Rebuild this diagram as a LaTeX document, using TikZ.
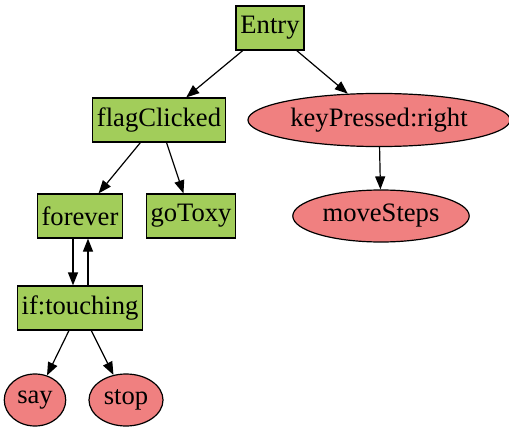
\documentclass[tikz,border=0pt]{standalone}
\usepackage{fontspec}
\setmainfont{Liberation Serif}
\usetikzlibrary{shapes.geometric,arrows.meta}
\definecolor{leaf}{HTML}{A2CD5A}
\definecolor{coral}{HTML}{F08080}
\tikzset{
    block/.style={draw, fill=leaf, line width=0.6pt, inner xsep=2.2pt, minimum height=22pt, font=\fontsize{13.3pt}{16pt}\selectfont},
    oval/.style={ellipse, draw, fill=coral, line width=0.6pt, inner xsep=2pt, minimum height=26pt, font=\fontsize{13.3pt}{16pt}\selectfont},
    edge/.style={line width=0.6pt, -{Triangle[length=6.5pt,width=5pt]}}
}
\begin{document}
\begin{tikzpicture}[x=0.5pt,y=-0.5pt]
    \useasboundingbox (0,0) rectangle (509,428);
    \node[block] (entry) at (270,28) {Entry};
    \node[block] (flag) at (159,120) {flagClicked};
    \node[oval] (key) at (379,120) {keyPressed:right};
    \node[block] (forever) at (80,216) {forever};
    \node[block] (goto) at (191,216) {goToxy};
    \node[oval] (move) at (381,216) {moveSteps};
    \node[block] (touch) at (80,308) {if:touching};
    \node[oval] (say) at (35,400) {say};
    \node[oval] (stop) at (126,400) {stop};

    \draw[edge] (entry) -- (flag);
    \draw[edge] (entry) -- (key);
    \draw[edge] (key) -- (move);
    \draw[edge] (flag) -- (forever);
    \draw[edge] (flag) -- (goto);
    \draw[edge] ([xshift=-3.5pt]forever.south) -- ([xshift=-3.5pt]touch.north);
    \draw[edge] ([xshift=4pt]touch.north) -- ([xshift=4pt]forever.south);
    \draw[edge] (touch) -- (say);
    \draw[edge] (touch) -- (stop);
\end{tikzpicture}
\end{document}
